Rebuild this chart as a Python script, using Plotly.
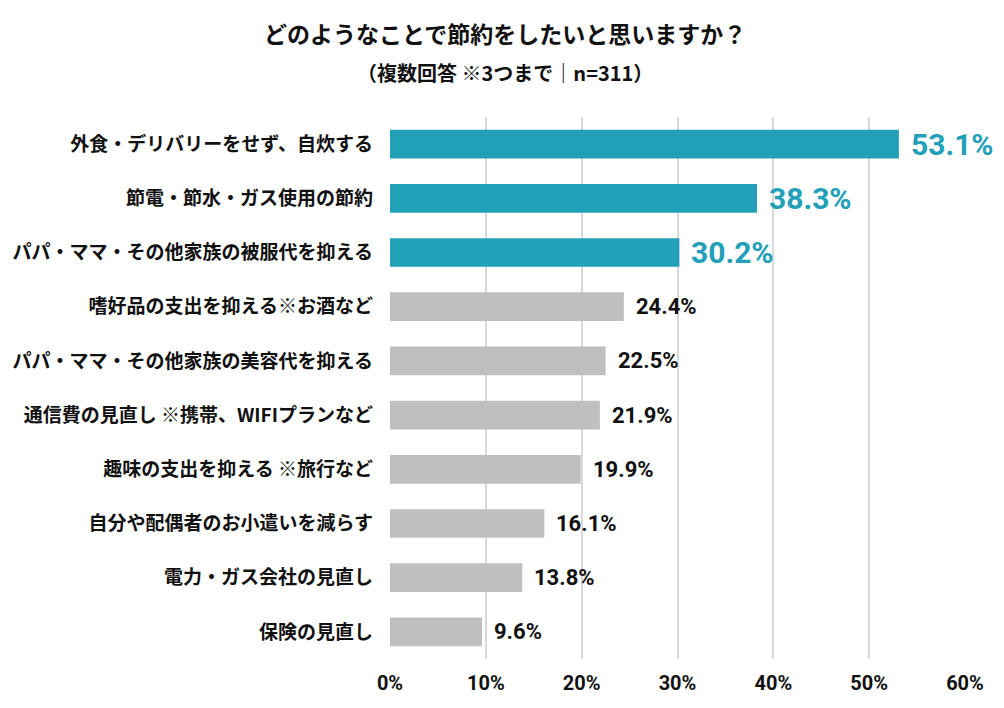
import plotly.graph_objects as go

# survey answers (top to bottom)
categories = [
    "外食・デリバリーをせず、自炊する",
    "節電・節水・ガス使用の節約",
    "パパ・ママ・その他家族の被服代を抑える",
    "嗜好品の支出を抑える※お酒など",
    "パパ・ママ・その他家族の美容代を抑える",
    "通信費の見直し ※携帯、WIFIプランなど",
    "趣味の支出を抑える ※旅行など",
    "自分や配偶者のお小遣いを減らす",
    "電力・ガス会社の見直し",
    "保険の見直し",
]
values = [53.1, 38.3, 30.2, 24.4, 22.5, 21.9, 19.9, 16.1, 13.8, 9.6]
tick_vals = [0, 10, 20, 30, 40, 50, 60]
tick_text = ["0%", "10%", "20%", "30%", "40%", "50%", "60%"]

TEAL = "#22a0b8"
GRAY = "#bfbfbf"
top_n = 3

bar_colors = [TEAL if i < top_n else GRAY for i in range(len(values))]

fig = go.Figure(go.Bar(
    x=values,
    y=categories,
    orientation="h",
    marker=dict(color=bar_colors, line=dict(width=0)),
    width=0.53,
))

# value labels next to each bar
for i, (cat, v) in enumerate(zip(categories, values)):
    hi = i < top_n
    fig.add_annotation(
        x=v, y=cat, text=f"{v:.1f}%",
        xanchor="left", yanchor="middle", xshift=10, showarrow=False,
        font=dict(size=30 if hi else 22, color=TEAL if hi else "#111111",
                  family="Roboto, Noto Sans CJK JP", weight="bold"),
    )

fig.add_annotation(text="<b>どのようなことで節約をしたいと思いますか？</b>",
                   xref="paper", yref="paper", x=0.2, y=1.155,
                   showarrow=False, font=dict(size=23),
                   xanchor="center", yanchor="middle")
fig.add_annotation(text="<b>（複数回答 ※3つまで｜n=311）</b>",
                   xref="paper", yref="paper", x=0.2, y=1.083,
                   showarrow=False, font=dict(size=20),
                   xanchor="center", yanchor="middle")

fig.update_layout(
    width=988,
    height=692,
    plot_bgcolor="white",
    paper_bgcolor="white",
    margin=dict(l=382, r=31, t=109, b=41, autoexpand=False),
    font=dict(family="Noto Sans CJK JP", color="#111111"),
    showlegend=False,
)

fig.update_xaxes(
    range=[0, 60],
    tickvals=tick_vals,
    ticktext=tick_text,
    showgrid=True,
    gridcolor="#d9d9d9",
    gridwidth=2,
    zeroline=False,
    showline=False,
    tickfont=dict(size=20, weight="bold", family="Roboto, Noto Sans CJK JP"),
    ticklabelstandoff=10,
)
fig.update_yaxes(
    autorange="reversed",
    showgrid=False,
    tickfont=dict(size=19, weight="bold"),
    ticklabelstandoff=16,
)

fig.write_html("out.html")
